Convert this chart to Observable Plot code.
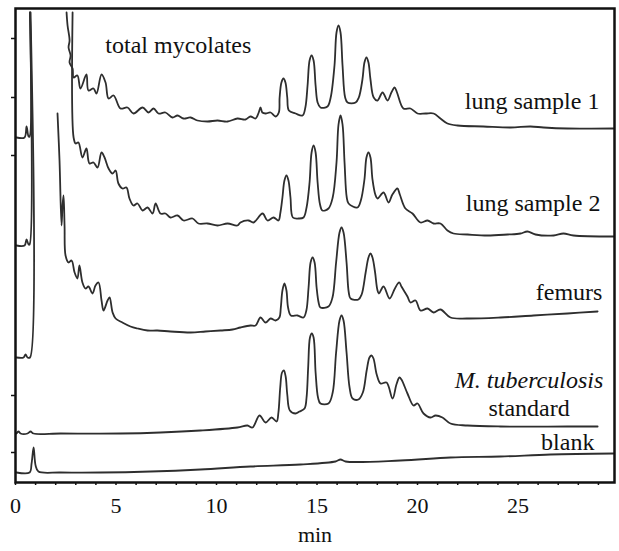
<!DOCTYPE html>
<html>
<head>
<meta charset="utf-8">
<script src="https://cdn.jsdelivr.net/npm/d3@7"></script>
<script src="https://cdn.jsdelivr.net/npm/@observablehq/plot@0.6"></script>
<style>
  html, body { margin: 0; padding: 0; background: #fff; }
</style>
</head>
<body>
<div id="chart"></div>
<script>
// Chromatograms: [time (min), detector signal (arbitrary units)]; null = off-scale gap
const lung1 = [
  [0.05,345],[0.45,345],[0.55,356],[0.65,346],[0.70,346],[0.72,470],[null,null],
  [2.54,470],[2.59,457],[2.69,442],[2.64,435],[2.74,427],[2.69,420],[2.84,414],[2.89,405],
  [3.08,407],[3.23,394],[3.53,408],[3.63,392],[3.88,394],[4.03,389],[4.28,408],[4.48,400],
  [4.63,384],[4.88,387],[5.22,374],[5.57,375],[5.87,369],[6.32,375],[6.62,370],[6.87,374],
  [7.11,369],[7.46,370],[7.81,365],[8.06,367],[8.36,364],[8.71,365],[9.05,362],[9.55,361],
  [10.05,362],[10.55,361],[11.04,364],[11.44,363],[11.69,366],[11.94,364],[12.10,370],
  [12.19,375],[12.28,370],[12.44,369],[12.69,370],[12.94,366],[13.10,370],[13.14,385],
  [13.23,400],[13.33,404],[13.43,400],[13.52,385],[13.60,372],[13.93,369],[14.28,367],
  [14.42,375],[14.53,397],[14.63,422],[14.73,427],[14.83,422],[14.93,397],[15.03,380],
  [15.17,375],[15.52,376],[15.68,385],[15.87,417],[15.97,450],[16.07,457],[16.17,450],
  [16.27,417],[16.40,385],[16.52,380],[16.92,380],[17.08,385],[17.26,403],[17.36,420],
  [17.46,425],[17.56,420],[17.66,403],[17.82,385],[18.01,382],[18.26,390],[18.51,382],
  [18.70,390],[18.86,395],[18.98,390],[19.30,374],[19.65,374],[20.00,369],
  [20.40,369],[20.80,369],[21.14,364],[21.49,359],[21.99,357],[23.28,356],[24.63,355],
  [25.62,356],[26.27,355],[27.46,354],[29.75,354]
];
const lung2 = [
  [0.05,237],[0.45,237],[0.55,243],[0.65,238],[0.70,238],[0.72,470],[null,null],
  [2.84,470],[2.89,345],[2.99,339],[3.13,340],[3.33,325],[3.53,334],[3.68,319],[3.88,320],
  [4.08,315],[4.28,330],[4.43,325],[4.63,314],[4.83,309],[4.98,312],[5.12,299],[5.32,294],
  [5.52,295],[5.67,284],[5.87,277],[6.07,279],[6.32,272],[6.57,275],[6.82,269],[6.97,279],
  [7.21,269],[7.46,269],[7.71,265],[8.06,267],[8.36,262],[8.81,264],[9.10,259],[9.55,259],
  [10.05,257],[10.55,259],[11.04,257],[11.19,260],[11.59,262],[11.84,260],[12.29,269],
  [12.54,262],[12.84,265],[13.08,262],[13.18,270],[13.28,285],[13.38,302],[13.48,307],
  [13.58,302],[13.68,285],[13.80,265],[14.08,264],[14.33,265],[14.48,275],[14.63,300],
  [14.73,330],[14.83,337],[14.93,330],[15.03,300],[15.15,278],[15.27,272],[15.57,274],
  [15.78,285],[15.97,320],[16.07,358],[16.17,367],[16.27,358],[16.37,320],[16.48,285],
  [16.57,279],[17.01,275],[17.18,282],[17.36,303],[17.46,325],[17.56,330],[17.66,325],
  [17.76,303],[17.90,288],[18.01,284],[18.31,290],[18.56,280],[18.75,288],[19.00,294],
  [19.12,288],[19.40,274],[19.75,269],[20.15,260],
  [20.50,262],[20.80,259],[21.14,259],[21.49,252],[21.79,249],[22.49,248],[23.48,247],
  [24.48,248],[25.12,249],[25.47,251],[25.87,248],[26.77,247],[27.26,249],[27.76,247],
  [29.75,246]
];
const femurs = [
  [0.05,125],[0.40,125],[0.50,128],[0.60,125],[0.72,125],[0.75,470],[null,null],
  [2.09,369],[2.19,322],[2.29,257],[2.34,277],[2.39,287],[2.44,257],[2.49,227],[2.64,220],
  [2.79,222],[2.94,210],[3.08,204],[3.18,217],[3.33,200],[3.48,194],[3.63,196],[3.83,189],
  [3.98,197],[4.13,200],[4.28,182],[4.38,172],[4.58,182],[4.68,185],[4.83,170],[4.98,164],
  [5.32,160],[5.72,156],[6.07,154],[6.57,152],[7.06,152],[7.71,151],[8.71,150],[9.45,151],
  [10.20,152],[10.80,153],[11.19,155],[11.69,157],[11.94,157],[12.19,165],[12.44,160],
  [12.69,164],[12.94,162],[13.13,165],[13.20,175],[13.28,192],[13.38,199],[13.48,192],
  [13.56,175],[13.70,167],[14.03,167],[14.33,165],[14.47,172],[14.58,195],[14.68,220],
  [14.78,225],[14.88,220],[14.98,195],[15.08,180],[15.17,175],[15.57,176],[15.77,185],
  [15.95,220],[16.12,250],[16.22,255],[16.32,250],[16.47,220],[16.58,190],[16.67,184],
  [17.06,183],[17.22,188],[17.42,210],[17.56,225],[17.66,229],[17.76,225],[17.89,210],
  [18.00,193],[18.08,189],[18.31,196],[18.61,184],[18.85,193],[19.02,199],[19.10,200],
  [19.20,196],[19.50,186],[19.65,180],[19.90,182],
  [20.15,172],[20.50,174],[20.80,170],[21.14,173],[21.64,165],[22.49,164],[24.13,165],
  [25.77,167],[27.46,169],[28.96,171]
];
const standard = [
  [0.05,49],[0.15,51],[0.25,49],[0.60,49],[0.75,51],[0.90,49],[2.24,49],[5.22,49],
  [7.21,50],[9.20,52],[11.04,55],[11.54,57],[11.79,55],[12.14,67],[12.44,60],[12.74,65],
  [12.99,61],[13.08,70],[13.17,95],[13.26,110],[13.35,112],[13.44,106],[13.52,88],
  [13.65,72],[13.93,69],[14.13,71],[14.38,74],[14.48,85],[14.56,115],[14.65,145],
  [14.74,149],[14.83,145],[14.93,110],[15.05,85],[15.17,79],[15.57,79],[15.78,90],
  [15.95,130],[16.12,162],[16.22,167],[16.32,162],[16.47,130],[16.62,95],[16.77,84],
  [17.06,83],[17.28,90],[17.47,112],[17.61,125],[17.71,127],[17.81,124],[17.97,108],
  [18.16,99],[18.46,100],[18.76,84],[18.95,98],[19.10,105],[19.20,103],[19.50,89],
  [19.80,77],[20.00,79],[20.30,69],
  [20.65,65],[20.90,67],[21.24,65],[21.64,59],[22.49,57],[24.13,56],[27.46,56],[28.96,56]
];
const blank = [
  [0.05,10],[0.70,10],[0.80,19],[0.90,35],[1.00,17],[1.14,11],[2.24,10],[4.23,10],
  [6.72,11],[9.20,13],[11.69,16],[14.18,18],[15.92,21],[16.17,23],[16.42,21],[19.15,22],
  [21.64,25],[24.13,26],[26.62,28],[29.75,29]
];

const xDomain = [0, 29.8];
const yDomain = [0, 474];
const xMinorTicks = d3.range(0, 30, 1);
const xTickLabels = [0, 5, 10, 15, 20, 25];
const yTicks = [30, 87, 327, 385, 444];
const xLabel = "min";

// annotations: text, anchor time, anchor signal
const labels = [
  {text: "total mycolates", t: 8.1, v: 437, anchor: "middle"},
  {text: "lung sample 1", t: 29.05, v: 381, anchor: "end"},
  {text: "lung sample 2", t: 29.1, v: 279, anchor: "end"},
  {text: "femurs", t: 29.2, v: 190, anchor: "end"},
  {text: "standard", t: 25.55, v: 74, anchor: "middle"},
  {text: "blank", t: 28.8, v: 40, anchor: "end"}
];
const italicLabels = [
  {text: "M. tuberculosis", t: 25.55, v: 102, anchor: "middle"}
];

const serif = "'Liberation Serif', 'Times New Roman', Times, serif";
const traces = [lung1, lung2, femurs, standard, blank];
const lineStyle = {x: d => d[0], y: d => d[1], curve: "catmull-rom", stroke: "#2e2e2e", strokeWidth: 1.8};

const chart = Plot.plot({
  width: 619,
  height: 551,
  marginLeft: 15,
  marginRight: 5,
  marginTop: 8,
  marginBottom: 69,
  x: {domain: xDomain},
  y: {domain: yDomain},
  style: {fontFamily: serif, fontSize: "22px", background: "#fff", color: "#111", overflow: "visible"},
  marks: [
    ...traces.map(tr => Plot.line(tr, lineStyle)),
    Plot.axisX({ticks: xMinorTicks, tickSize: 3, tickFormat: () => "", label: null, strokeWidth: 1.5}),
    Plot.axisX({ticks: xTickLabels, tickSize: 0, tickPadding: 15, label: null, fontSize: 22, fontFamily: serif}),
    Plot.axisY({ticks: yTicks, tickSize: 4, tickFormat: () => "", label: null, strokeWidth: 1.5}),
    Plot.frame({stroke: "#111", strokeWidth: 2.5}),
    Plot.text(labels.filter(d => d.anchor === "middle"), {x: "t", y: "v", text: "text", textAnchor: "middle", fontSize: 24, fontFamily: serif, fill: "#111"}),
    Plot.text(labels.filter(d => d.anchor === "end"), {x: "t", y: "v", text: "text", textAnchor: "end", fontSize: 24, fontFamily: serif, fill: "#111"}),
    Plot.text(italicLabels, {x: "t", y: "v", text: "text", textAnchor: "middle", fontSize: 24, fontStyle: "italic", fontFamily: serif, fill: "#111"}),
    Plot.text([xLabel], {frameAnchor: "bottom", text: d => d, dy: 59, fontSize: 22, fontFamily: serif, fill: "#111"})
  ]
});
document.getElementById("chart").appendChild(chart);
</script>
</body>
</html>
